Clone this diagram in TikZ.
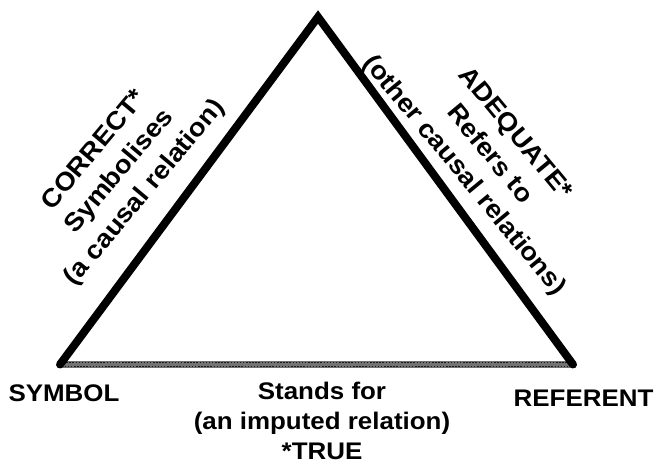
\documentclass[tikz,border=0pt]{standalone}
\usepackage{fontspec}
\setmainfont[FakeStretch=1.08]{Liberation Sans}
\begin{document}
\begin{tikzpicture}[x=1pt,y=1pt,
  sidelbl/.style={font=\fontsize{25.5}{33}\selectfont\bfseries, inner sep=0pt, align=center},
  botlbl/.style={font=\fontsize{24}{30}\selectfont\bfseries, inner sep=0pt, align=center},
  sideedge/.style={line width=8pt, line join=miter, line cap=round},
  baseedge/.style={line width=7pt, draw=black!55},
  basetexture/.style={line width=1.4pt, draw=black!90, dash pattern=on 1.5pt off 1.6pt}]
\useasboundingbox (0,0) rectangle (658,465);
\coordinate (L) at (60,100.5);
\coordinate (A) at (318,448);
\coordinate (R) at (573,100.5);
\draw[baseedge] (L) -- (R);
\draw[basetexture] ([yshift=2pt]L) -- ([yshift=2pt]R);
\draw[basetexture, dash phase=1.5pt] ([yshift=-2pt]L) -- ([yshift=-2pt]R);
\draw[sideedge] (L) -- (A) -- (R);
\node[sidelbl, rotate=50] (correct) at (120,293) {CORRECT*\\Symbolises\\(a causal relation)};
\node[sidelbl, rotate=-50.5] (adequate) at (489,310) {ADEQUATE*\\Refers to\\(other causal relations)};
\node[botlbl, anchor=base] (symbol) at (64,63) {SYMBOL};
\node[botlbl, anchor=base] (referent) at (583.5,58) {REFERENT};
\node[botlbl, anchor=north] (stands) at (322,83) {Stands for\\(an imputed relation)\\*TRUE};
\end{tikzpicture}
\end{document}
